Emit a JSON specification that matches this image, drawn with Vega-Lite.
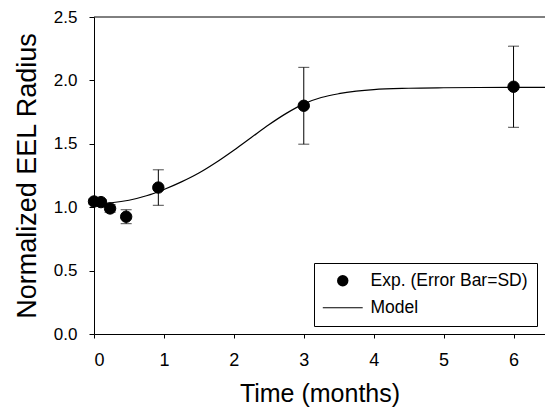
{
  "$schema": "https://vega.github.io/schema/vega-lite/v6.json",
  "width": 451,
  "height": 317,
  "autosize": {"type": "none"},
  "padding": {"left": 94, "top": 17, "right": 0, "bottom": 75},
  "background": "white",
  "config": {
    "view": {"stroke": null},
    "font": "Liberation Sans",
    "axis": {
      "grid": false,
      "domainColor": "black",
      "domainWidth": 1,
      "tickColor": "black",
      "tickWidth": 1,
      "labelColor": "black",
      "titleColor": "black",
      "titleFontWeight": "normal",
      "labelFont": "Liberation Sans",
      "titleFont": "Liberation Sans"
    },
    "legend": {
      "labelFont": "Liberation Sans",
      "labelFontSize": 17.5,
      "labelColor": "black",
      "strokeColor": "black",
      "fillColor": "white",
      "padding": 9,
      "rowPadding": 8,
      "symbolOffset": 11,
      "labelOffset": 19,
      "symbolSize": 130
    }
  },
  "datasets": {
    "exp": [
      {"t": 0, "value": 1.045, "sd": 0.02},
      {"t": 0.1, "value": 1.04, "sd": 0.02},
      {"t": 0.23, "value": 0.99, "sd": 0.03},
      {"t": 0.46, "value": 0.925, "sd": 0.055},
      {"t": 0.92, "value": 1.155, "sd": 0.14},
      {"t": 3, "value": 1.8, "sd": 0.303},
      {"t": 6, "value": 1.95, "sd": 0.32}
    ],
    "model": [
      {"t": 0, "value": 1.025},
      {"t": 0.25, "value": 1.035},
      {"t": 0.5, "value": 1.055},
      {"t": 0.75, "value": 1.09},
      {"t": 1.0, "value": 1.14},
      {"t": 1.25, "value": 1.2},
      {"t": 1.5, "value": 1.27},
      {"t": 1.75, "value": 1.355},
      {"t": 2.0, "value": 1.45},
      {"t": 2.25, "value": 1.55},
      {"t": 2.5, "value": 1.65},
      {"t": 2.75, "value": 1.74},
      {"t": 3.0, "value": 1.815},
      {"t": 3.25, "value": 1.865},
      {"t": 3.5, "value": 1.895},
      {"t": 3.75, "value": 1.915},
      {"t": 4.0, "value": 1.928},
      {"t": 4.5, "value": 1.938},
      {"t": 5.0, "value": 1.942},
      {"t": 5.5, "value": 1.944},
      {"t": 6.0, "value": 1.945},
      {"t": 6.45, "value": 1.945}
    ]
  },
  "layer": [
    {
      "data": {"name": "model"},
      "mark": {"type": "line", "color": "black", "strokeWidth": 1.2, "interpolate": "monotone"},
      "encoding": {
        "x": {
          "field": "t",
          "type": "quantitative",
          "scale": {"domain": [0, 6.45], "nice": false, "zero": false},
          "axis": {
            "title": "Time (months)",
            "values": [0, 1, 2, 3, 4, 5, 6],
            "format": "d",
            "tickSize": 4,
            "labelPadding": 13,
            "labelFontSize": 18,
            "titleFontSize": 25,
            "titlePadding": 12
          }
        },
        "y": {
          "field": "value",
          "type": "quantitative",
          "scale": {"domain": [0, 2.5], "nice": false},
          "axis": {
            "title": "Normalized EEL Radius",
            "values": [0, 0.5, 1, 1.5, 2, 2.5],
            "format": ".1f",
            "tickSize": 5,
            "labelPadding": 12,
            "labelFontSize": 17,
            "titleFontSize": 27,
            "titlePadding": 12
          }
        }
      }
    },
    {
      "data": {"name": "exp"},
      "mark": {
        "type": "errorbar",
        "ticks": {"size": 11, "color": "black", "thickness": 1},
        "rule": {"color": "black", "strokeWidth": 1}
      },
      "encoding": {
        "x": {"field": "t", "type": "quantitative", "title": "Time (months)"},
        "y": {"field": "value", "type": "quantitative", "title": "Normalized EEL Radius"},
        "yError": {"field": "sd"}
      }
    },
    {
      "data": {"name": "exp"},
      "mark": {"type": "point", "filled": false, "fill": "black", "stroke": "black", "strokeWidth": 1, "opacity": 1, "size": 130},
      "encoding": {
        "x": {"field": "t", "type": "quantitative", "title": "Time (months)"},
        "y": {"field": "value", "type": "quantitative", "title": "Normalized EEL Radius"},
        "shape": {
          "datum": "Exp. (Error Bar=SD)",
          "type": "nominal",
          "scale": {"domain": ["Exp. (Error Bar=SD)", "Model"], "range": ["circle", "M-3.5,-0.1H3.5V0.1H-3.5Z"]},
          "legend": {
            "title": null, "orient": "none", "legendX": 220, "legendY": 246,
            "symbolFillColor": "black", "symbolStrokeColor": "black", "symbolStrokeWidth": 1
          }
        }
      }
    },
    {
      "data": {"values": [{}]},
      "mark": {"type": "rule", "color": "black", "strokeWidth": 1},
      "encoding": {"y": {"datum": 2.5}}
    }
  ]
}
